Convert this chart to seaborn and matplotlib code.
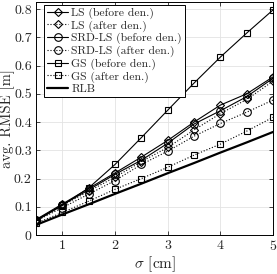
import matplotlib
matplotlib.use('Agg')
import matplotlib.pyplot as plt
import seaborn as sns

sigma = [0.5, 1, 1.5, 2, 2.5, 3, 3.5, 4, 4.5, 5]
ls_before = [0.055, 0.11, 0.165, 0.22, 0.276, 0.335, 0.40, 0.46, 0.50, 0.56]
ls_after = [0.052, 0.105, 0.155, 0.205, 0.26, 0.31, 0.372, 0.43, 0.48, 0.545]
srd_before = [0.053, 0.107, 0.16, 0.215, 0.265, 0.325, 0.393, 0.44, 0.49, 0.555]
srd_after = [0.05, 0.097, 0.145, 0.193, 0.25, 0.297, 0.35, 0.395, 0.435, 0.478]
gs_before = [0.05, 0.105, 0.167, 0.25, 0.345, 0.442, 0.538, 0.63, 0.715, 0.797]
gs_after = [0.042, 0.08, 0.12, 0.162, 0.20, 0.24, 0.283, 0.322, 0.368, 0.417]
rlb = [0.036, 0.073, 0.109, 0.146, 0.182, 0.219, 0.255, 0.292, 0.328, 0.365]

x_ticks = [1, 2, 3, 4, 5]
y_ticks = [0, 0.1, 0.2, 0.3, 0.4, 0.5, 0.6, 0.7, 0.8]
y_ticklabels = ['0', '0.1', '0.2', '0.3', '0.4', '0.5', '0.6', '0.7', '0.8']

sns.set_style('ticks')
plt.rcParams['font.family'] = ['cmr10', 'DejaVu Serif']
plt.rcParams['mathtext.fontset'] = 'cm'
plt.rcParams['axes.formatter.use_mathtext'] = True

series = [
    ('LS (before den.)',     ls_before,  'D', '-',  4.5),
    ('LS (after den.)',      ls_after,   'D', ':',  4.5),
    ('SRD-LS (before den.)', srd_before, 'o', '-',  5.5),
    ('SRD-LS (after den.)',  srd_after,  'o', ':',  5.5),
    ('GS (before den.)',     gs_before,  's', '-',  5),
    ('GS (after den.)',      gs_after,   's', ':',  5),
]

fig, ax = plt.subplots(figsize=(2.77, 2.74), dpi=100)
fig.subplots_adjust(left=0.13, right=0.986, bottom=0.142, top=0.993)

for label, vals, mk, ls, ms in series:
    sns.lineplot(x=sigma, y=vals, ax=ax, color='k', linestyle=ls, linewidth=0.8,
                 marker=mk, markersize=ms, markerfacecolor='none',
                 markeredgecolor='k', markeredgewidth=0.8, label=label)
sns.lineplot(x=sigma, y=rlb, ax=ax, color='k', linewidth=1.6, label='RLB')

ax.set_xlim(0.5, 5)
ax.set_ylim(0, 0.825)
ax.set_xticks(x_ticks)
ax.set_yticks(y_ticks)
ax.set_yticklabels(y_ticklabels)
ax.tick_params(direction='in', length=3, width=0.6, labelsize=10, pad=3,
               top=True, right=True)
ax.grid(True, color='#e3e3e3', linewidth=0.6)
for s in ax.spines.values():
    s.set_linewidth(0.7)
    s.set_color('k')

ax.set_xlabel(r'$\sigma$ [cm]', fontsize=11, labelpad=1)
ax.set_ylabel('avg. RMSE [m]', fontsize=10.5)
ax.yaxis.set_label_coords(-0.09, 0.5)

leg = ax.legend(loc='upper left', bbox_to_anchor=(0.035, 0.988), fontsize=8.4,
                frameon=True, fancybox=False, edgecolor='k', framealpha=1,
                handlelength=1.8, handletextpad=0.25, labelspacing=0.12,
                borderpad=0.25, borderaxespad=0)
leg.get_frame().set_linewidth(0.7)

fig.savefig('out.png', dpi=100)
